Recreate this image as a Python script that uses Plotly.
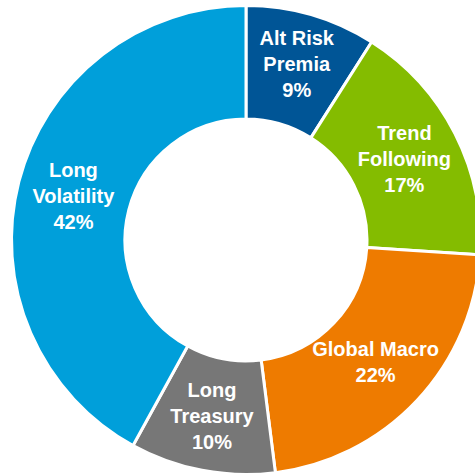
import plotly.graph_objects as go

labels = ["Alt Risk<br>Premia", "Trend<br>Following", "Global Macro", "Long<br>Treasury", "Long<br>Volatility"]
values = [9, 17, 22, 10, 42]
colors = ["#005596", "#84BC00", "#EE7B00", "#777777", "#009FDA"]

# canvas slightly wider than the window so the ring is clipped at the right edge like the reference
W, H = 481, 476
cx, cy_top = 246, 240
R = 234.5
dom_x = [(cx - R) / W, min(1.0, (cx + R) / W)]
dom_y = [((H - cy_top) - R) / H, ((H - cy_top) + R) / H]

fig = go.Figure(go.Pie(
    labels=labels,
    values=values,
    hole=0.516,
    sort=False,
    direction="clockwise",
    rotation=0,
    marker=dict(colors=colors, line=dict(color="white", width=3)),
    texttemplate="<b>%{label}<br>%{percent:.0%}</b>",
    textposition="inside",
    insidetextorientation="horizontal",
    textfont=dict(family="Liberation Sans, Arial, sans-serif", size=20, color="white"),
    showlegend=False,
    domain=dict(x=dom_x, y=dom_y),
    hoverinfo="label+percent",
))
fig.update_layout(
    width=W, height=H,
    margin=dict(l=0, r=0, t=0, b=0),
    paper_bgcolor="white",
    plot_bgcolor="white",
    uniformtext=dict(minsize=20, mode="show"),
)
fig.write_html(
    "out.html",
    post_script="document.documentElement.style.overflow='hidden';document.body.style.overflow='hidden';document.body.style.margin='0';",
)
